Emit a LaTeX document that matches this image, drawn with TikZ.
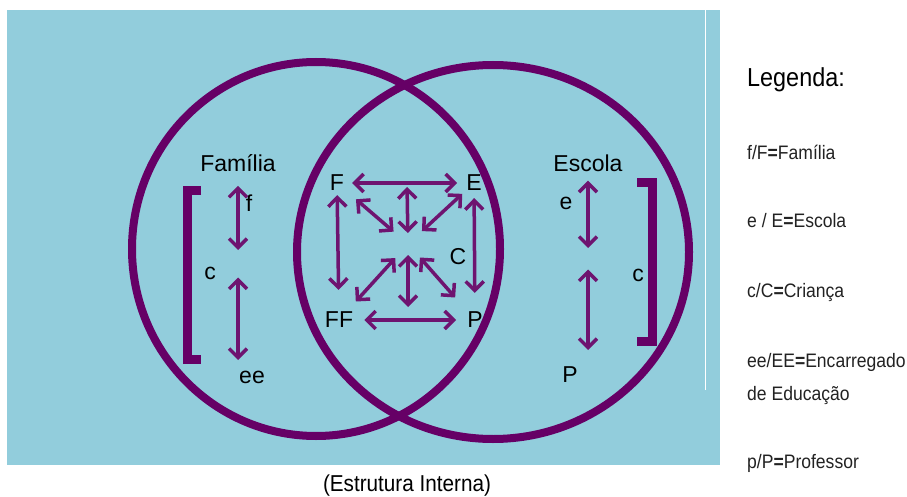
\documentclass[tikz,border=0pt]{standalone}
\usepackage{fontspec}
\setmainfont{Liberation Sans}
\newfontfamily\legfont[FakeStretch=0.9]{Liberation Sans}
\usetikzlibrary{arrows.meta}
\definecolor{bgblue}{HTML}{92CDDC}
\definecolor{ringc}{HTML}{660066}
\definecolor{arrowc}{HTML}{6E1470}
\definecolor{legtext}{HTML}{222222}
\newcommand{\eqsign}{{\bfseries=}}
\tikzset{
  ring/.style  = {draw=ringc, line width=8pt},
  brk/.style   = {draw=ringc, line width=9pt, line join=miter},
  link/.style  = {draw=arrowc, line width=3.5pt,
                  {Straight Barb[length=9pt, width=18pt]}-{Straight Barb[length=9pt, width=18pt]}},
  lab/.style   = {font=\fontsize{23}{25}\selectfont, inner sep=2pt},
  leg/.style   = {font=\legfont\fontsize{19.5}{22}\selectfont, text=legtext, anchor=west, inner sep=0pt},
}

\begin{document}
\begin{tikzpicture}[x=1pt, y=-1pt]
    \useasboundingbox (0,0) rectangle (907,497);
    \fill[bgblue] (7,10) rectangle (720,465);
    \draw[white, line width=1pt] (705,10) -- (705,390);

    % Familia and Escola
    \draw[ring] (316,249) ellipse [x radius=184pt, y radius=187pt];
    \draw[ring] (493,252) ellipse [x radius=196pt, y radius=187pt];

    % left side
    \node[lab] (fam) at (238,163) {Família};
    \node[lab] (fl)  at (249,203) {f};
    \node[lab] (cl)  at (210,273) {c};
    \node[lab] (eel) at (252,377) {ee};
    \draw[brk] (201,191) -- (187,191) -- (187,359) -- (201,359);
    \draw[link, shorten <=12pt, shorten >=23pt] (fam) -- (fam |- cl);
    \draw[link, shorten <=13pt, shorten >=17pt] (fam |- cl.north) -- (fam |- eel);

    % right side
    \node[lab] (esc) at (588,163) {Escola};
    \node[lab] (el)  at (566,203) {e};
    \node[lab] (cr)  at (638,275) {c};
    \node[lab] (pr)  at (570,375) {P};
    \draw[brk] (637,183) -- (652,183) -- (652,341) -- (637,341);
    \draw[link, shorten <=7pt, shorten >=27pt] (esc) -- (esc |- cr);
    \draw[link, shorten <=3pt, shorten >=25pt] (esc |- cr.north) -- (esc |- pr);

    % middle square
    \node[lab] (F)  at (337,183) {F};
    \node[lab] (E)  at (474,183) {E};
    \node[lab] (FF) at (339,320) {FF};
    \node[lab] (P)  at (475,320) {P};
    \node[lab] (C)  at (458,257) {C};
    \coordinate (hub)    at (408,244);
    \coordinate (topmid) at (407,184);
    \coordinate (botmid) at (408,310);
    \draw[link, shorten <=6pt, shorten >=7pt] (F) -- (E);
    \draw[link, shorten <=9pt, shorten >=9pt] (FF) -- (P);
    \draw[link, shorten <=2pt, shorten >=20pt] (F) -- (FF);
    \draw[link, shorten <=5pt, shorten >=17pt] (E) -- (P);
    \draw[link, shorten <=3pt, shorten >=11pt] (topmid) -- (hub);
    \draw[link, shorten <=3pt, shorten >=11pt] (botmid) -- (hub);
    \foreach \n/\a/\b in {F/25/19, E/16/19, FF/25/19, P/30/18}
        {\draw[link, shorten <=\a pt, shorten >=\b pt] (\n.center) -- (hub);}

    \node[font=\legfont\fontsize{23}{25}\selectfont, inner sep=0pt] (caption) at (407,486) {(Estrutura Interna)};

    % legend
    \node[leg, font=\legfont\fontsize{26}{28}\selectfont, text=black] (legtitle) at (747,80) {Legenda:};
    \node[leg] (lf)  at (747,152) {f/F\eqsign Família};
    \node[leg] (le)  at (747,221) {e / E\eqsign Escola};
    \node[leg] (lc)  at (747,292) {c/C\eqsign Criança};
    \node[leg] (lee) at (747,362) {ee/EE\eqsign Encarregado};
    \node[leg] (led) at (747,395) {de Educação};
    \node[leg] (lp)  at (747,463) {p/P\eqsign Professor};
\end{tikzpicture}
\end{document}
